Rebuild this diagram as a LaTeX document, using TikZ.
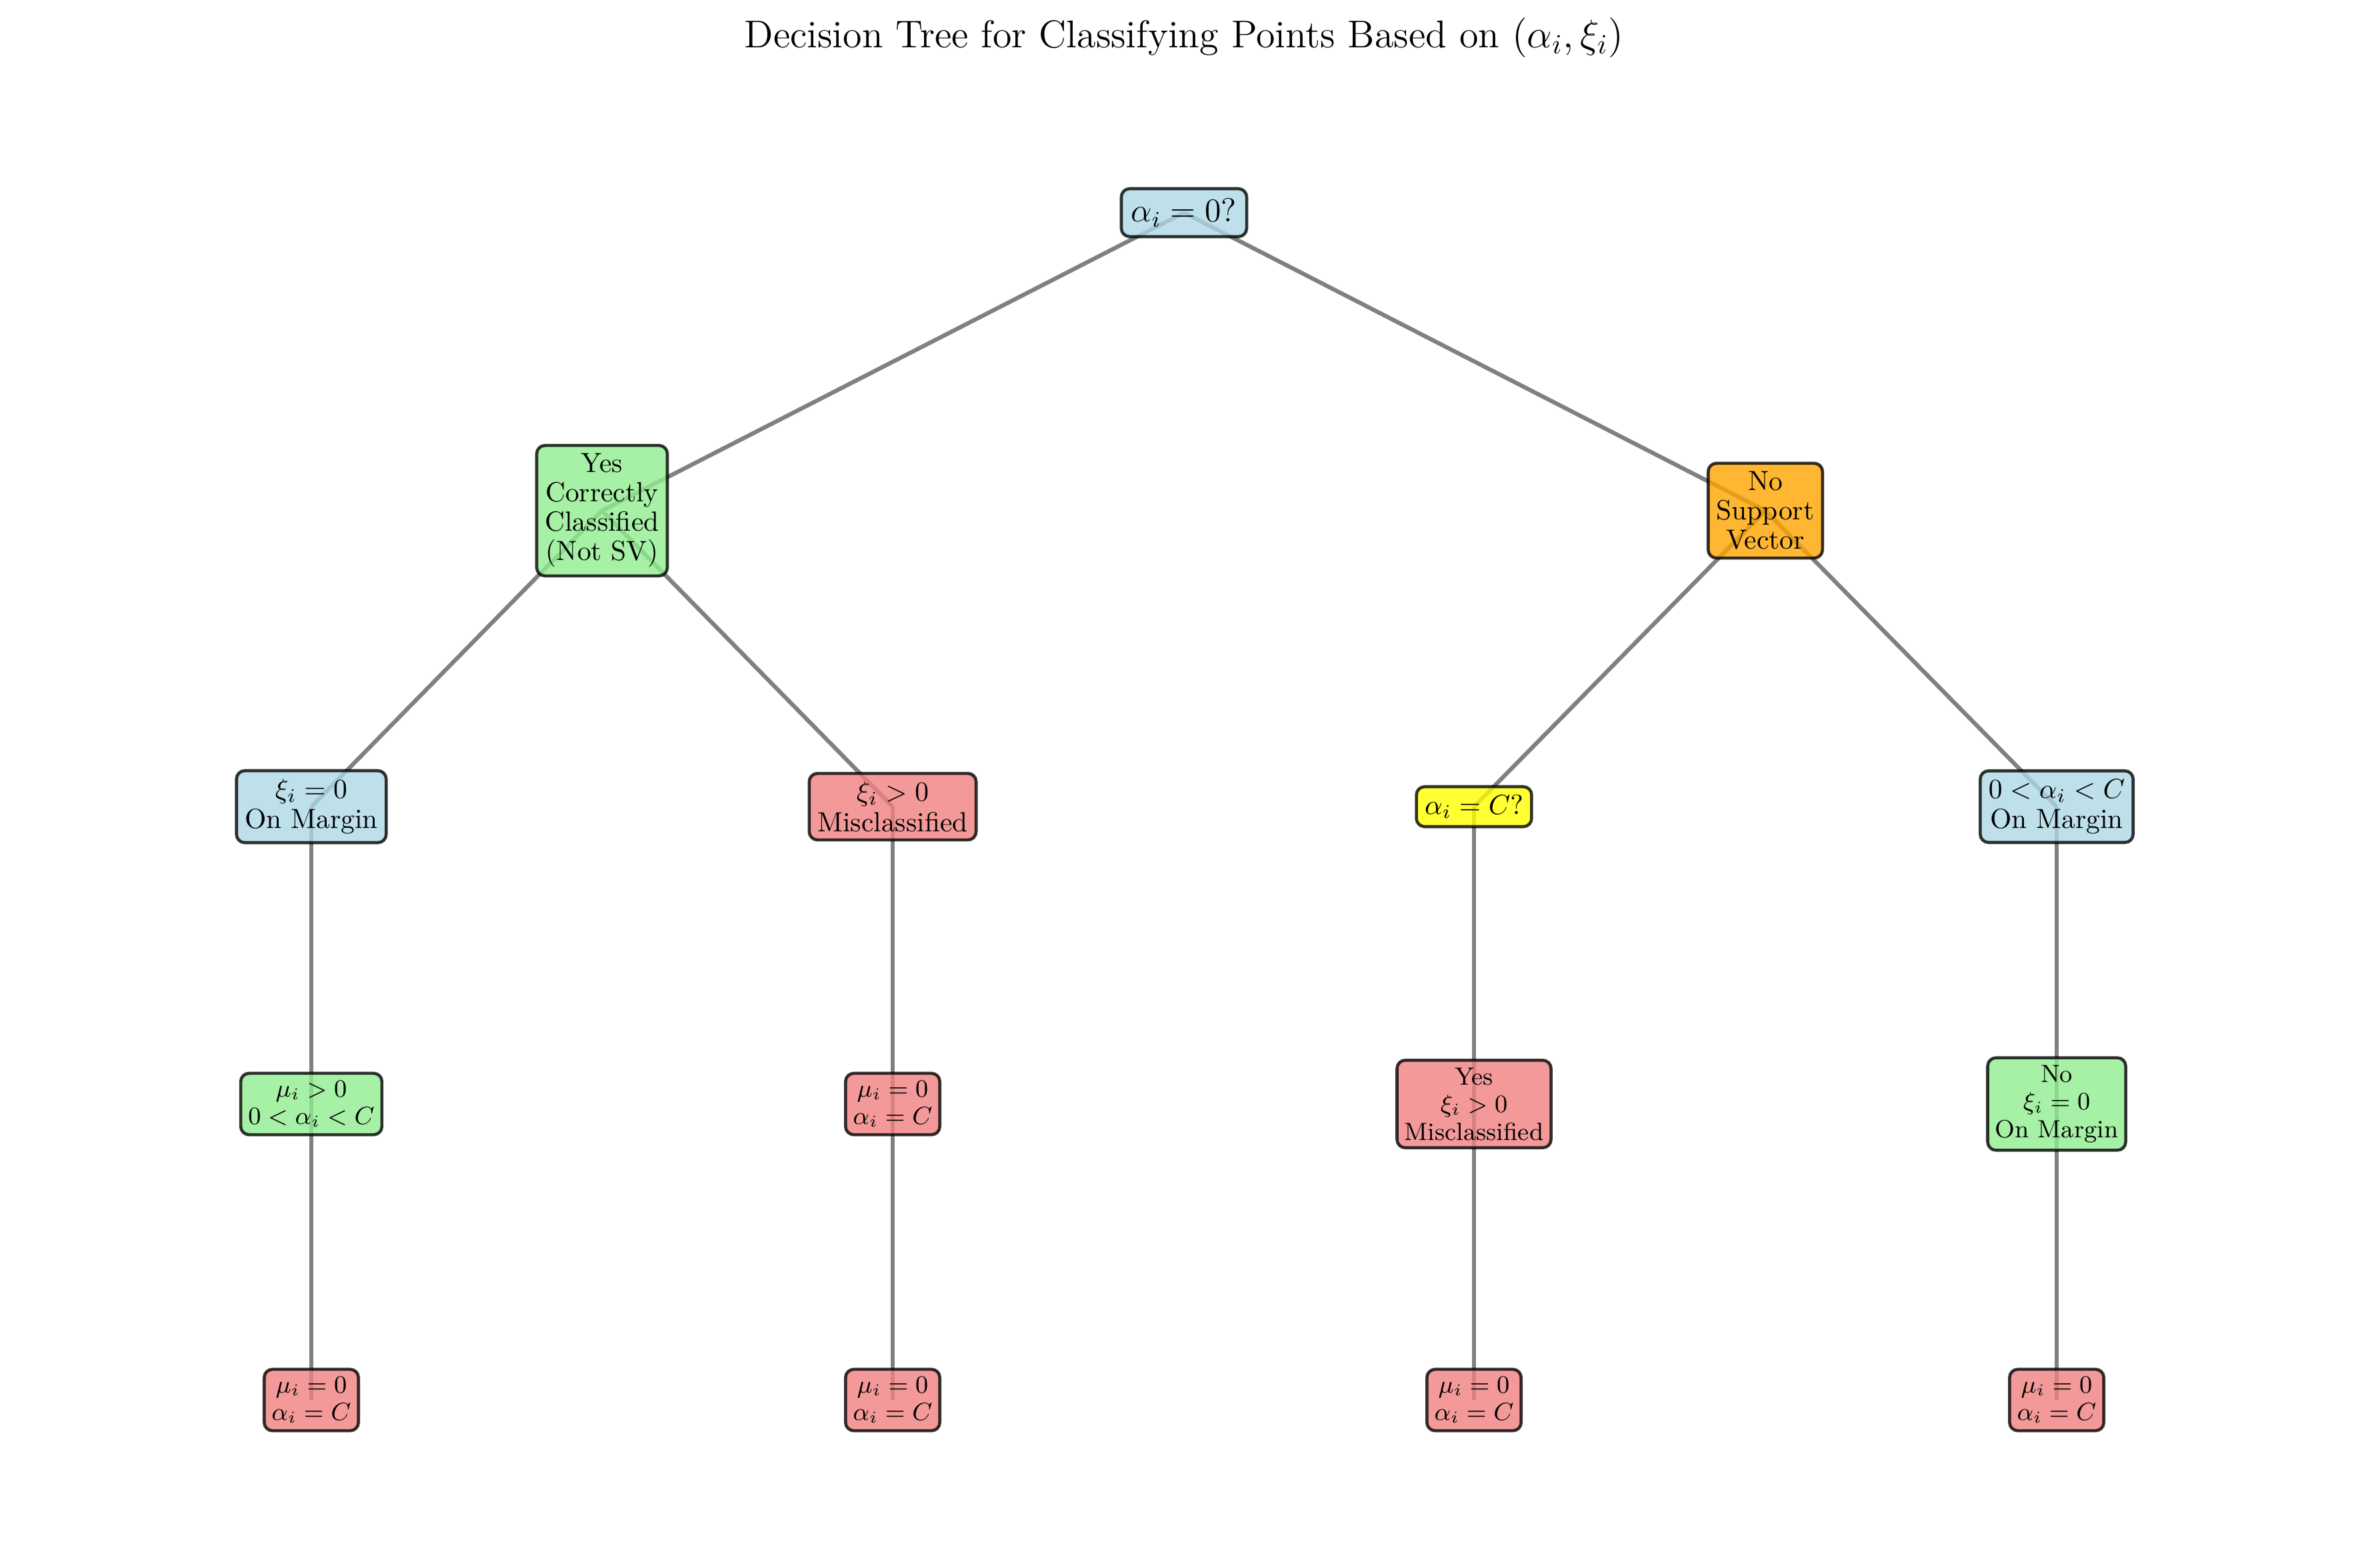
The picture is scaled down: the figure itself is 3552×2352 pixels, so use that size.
\documentclass[tikz,border=0pt]{standalone}
\usetikzlibrary{backgrounds}

\definecolor{skyfill}{HTML}{ADD8E6}
\definecolor{mintfill}{HTML}{90EE90}
\definecolor{coralfill}{HTML}{F08080}
\definecolor{orangefill}{HTML}{FFA500}
\definecolor{yellowfill}{HTML}{FFFF00}

\tikzset{
  box/.style={rectangle,rounded corners=3pt,draw=black,line width=1.1pt,
    draw opacity=0.8,fill opacity=0.8,text opacity=1,align=center,
    inner sep=3pt,font=\fontsize{10}{11}\selectfont},
  bigbox/.style={box,inner sep=3.6pt,font=\fontsize{12}{14}\selectfont},
  smallbox/.style={box,inner sep=2.7pt,font=\fontsize{9}{10}\selectfont},
  edge/.style={draw=gray,line width=1.5pt}
}

\begin{document}
\begin{tikzpicture}[x=0.2409pt,y=-0.2409pt]
  \useasboundingbox (0,0) rectangle (3552,2352);

  \node (title) at (1776,57) {\fontsize{14}{16}\selectfont Decision Tree for Classifying Points Based on $(\alpha_i, \xi_i)$};

  \node[bigbox,fill=skyfill] (root) at (1776,319) {$\alpha_i = 0?$};

  \node[box,fill=mintfill,font=\fontsize{10}{10.6}\selectfont] (yes) at (903,766) {Yes\\Correctly\\Classified\\(Not SV)};
  \node[box,fill=orangefill,font=\fontsize{10}{10.6}\selectfont] (no) at (2648,766) {No\\Support\\Vector};

  \node[box,fill=skyfill] (xizero) at (467,1210) {$\xi_i = 0$\\On Margin};
  \node[box,fill=coralfill] (xipos) at (1339,1210) {$\xi_i > 0$\\Misclassified};
  \node[box,fill=yellowfill] (aeqc) at (2211,1210) {$\alpha_i = C?$};
  \node[box,fill=skyfill] (amid) at (3085,1210) {$0 < \alpha_i < C$\\On Margin};

  \node[smallbox,fill=mintfill] (mupos) at (467,1656) {$\mu_i > 0$\\$0 < \alpha_i < C$};
  \node[smallbox,fill=coralfill] (muzero) at (1339,1656) {$\mu_i = 0$\\$\alpha_i = C$};
  \node[smallbox,fill=coralfill] (yesmis) at (2211,1656) {Yes\\$\xi_i > 0$\\Misclassified};
  \node[smallbox,fill=mintfill] (nomarg) at (3085,1656) {No\\$\xi_i = 0$\\On Margin};

  \node[smallbox,fill=coralfill] (leafa) at (467,2100) {$\mu_i = 0$\\$\alpha_i = C$};
  \node[smallbox,fill=coralfill] (leafb) at (1339,2100) {$\mu_i = 0$\\$\alpha_i = C$};
  \node[smallbox,fill=coralfill] (leafc) at (2211,2100) {$\mu_i = 0$\\$\alpha_i = C$};
  \node[smallbox,fill=coralfill] (leafd) at (3085,2100) {$\mu_i = 0$\\$\alpha_i = C$};

  \begin{scope}[on background layer]
    \foreach \from/\to in {root/yes, root/no, yes/xizero, yes/xipos, no/aeqc, no/amid,
        xizero/mupos, xipos/muzero, aeqc/yesmis, amid/nomarg,
        mupos/leafa, muzero/leafb, yesmis/leafc, nomarg/leafd}
      \draw[edge] (\from.center) -- (\to.center);
  \end{scope}

\end{tikzpicture}
\end{document}
